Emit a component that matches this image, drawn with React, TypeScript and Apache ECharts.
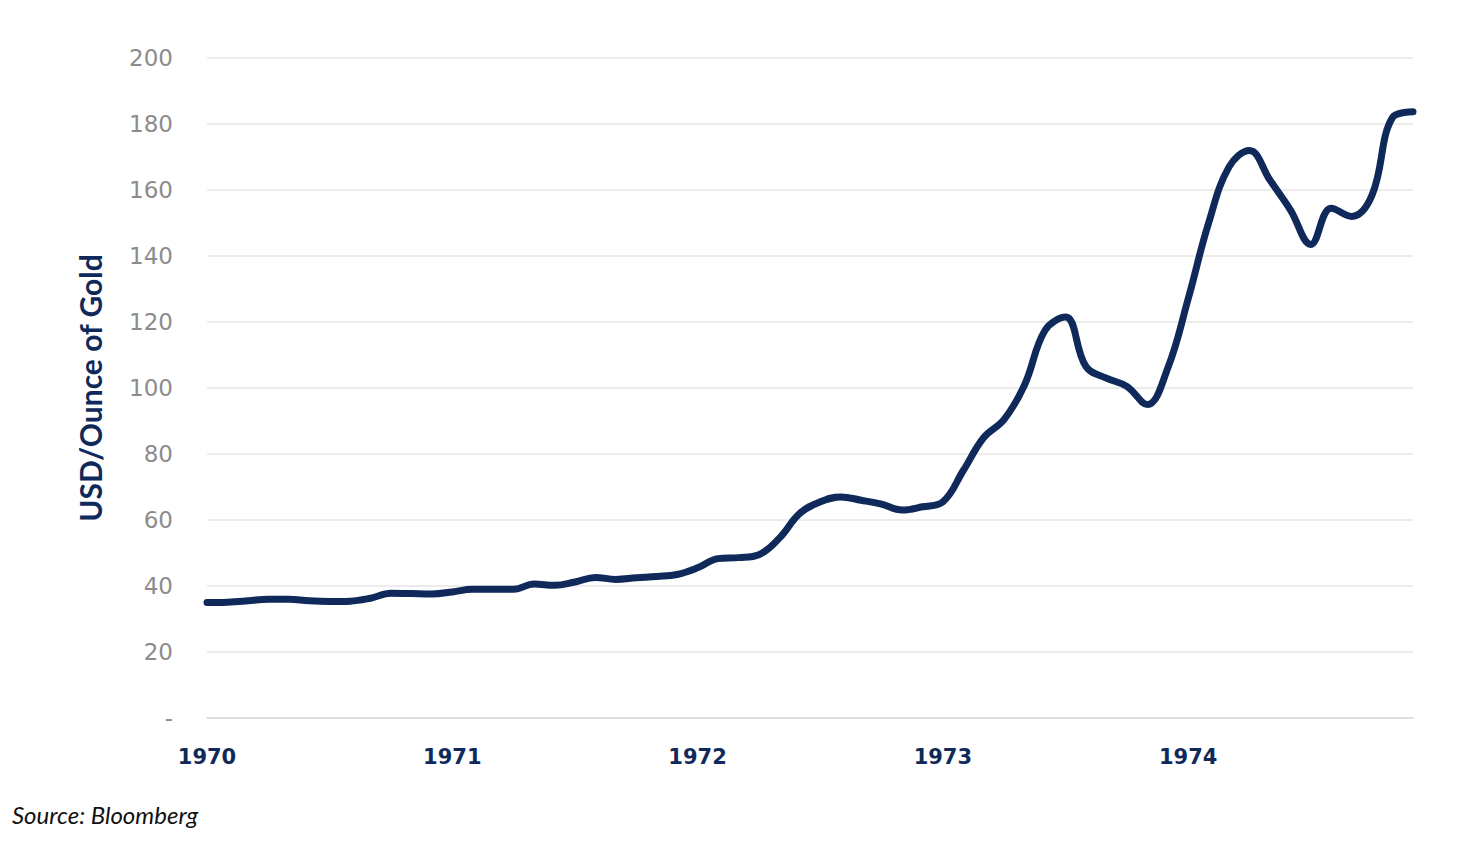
import React, { useEffect, useRef } from 'react';
import * as echarts from 'echarts';

// monthly gold price, Jan 1970 .. Dec 1974
const years = ['1970', '1971', '1972', '1973', '1974'];
const monthsPerYear = 12;

const goldPrice: number[] = [
  35.0, 35.1, 35.5, 36.0, 36.0, 35.5, 35.3, 35.4, 36.3, 37.8, 37.7, 37.6,
  38.2, 39.0, 39.0, 39.0, 40.6, 40.2, 41.2, 42.6, 42.0, 42.5, 42.9, 43.5,
  45.5, 48.3, 48.6, 49.5, 54.5, 62.0, 65.5, 67.0, 66.0, 64.8, 63.0, 64.0,
  65.5, 75.0, 85.0, 90.5, 101.0, 117.5, 121.5, 106.5, 103.0, 100.5, 95.0, 106.0,
  127.0, 150.0, 167.0, 172.0, 163.0, 154.0, 143.5, 154.5, 152.0, 158.5, 182.0, 183.7,
];

const yTicks = { min: 0, max: 200, interval: 20 };

const NAVY = '#0f2a5a';

const categories: string[] = [];
years.forEach((y) => {
  for (let m = 1; m <= monthsPerYear; m++) {
    categories.push(`${y}-${String(m).padStart(2, '0')}`);
  }
});

const App: React.FC = () => {
  const chartRef = useRef<HTMLDivElement>(null);

  useEffect(() => {
    if (!chartRef.current) return;
    const chart = echarts.init(chartRef.current, null, { renderer: 'svg' });

    const option: echarts.EChartsOption = {
      animation: false,
      backgroundColor: '#ffffff',
      grid: {
        left: 207,
        right: 51,
        top: 58,
        bottom: 134,
        containLabel: false,
      },
      xAxis: {
        type: 'category',
        boundaryGap: false,
        data: categories,
        axisTick: { show: false },
        axisLine: { lineStyle: { color: '#d9d9d9', width: 1.5 } },
        axisLabel: {
          interval: monthsPerYear - 1,
          formatter: (v: string) => v.slice(0, 4),
          color: NAVY,
          fontFamily: 'DejaVu Sans',
          fontWeight: 'bold',
          fontSize: 21,
          margin: 28,
        },
        splitLine: { show: false },
      },
      yAxis: {
        type: 'value',
        min: yTicks.min,
        max: yTicks.max,
        interval: yTicks.interval,
        axisLine: { show: false },
        axisTick: { show: false },
        axisLabel: {
          formatter: (v: number) => (v === 0 ? '-' : String(v)),
          color: '#8c8c8c',
          fontFamily: 'DejaVu Sans',
          fontSize: 23,
          margin: 34,
        },
        splitLine: { lineStyle: { color: '#ececec', width: 2 } },
      },
      graphic: [
        {
          type: 'text',
          x: 90,
          y: 388,
          rotation: Math.PI / 2,
          style: {
            text: 'USD/Ounce of Gold',
            fill: NAVY,
            font: 'bold 30px Lato',
            textAlign: 'center',
            textVerticalAlign: 'middle',
          },
        },
        {
          type: 'text',
          left: 12,
          top: 802,
          style: {
            text: 'Source: Bloomberg',
            fill: '#111111',
            font: 'italic 24px Lato',
          },
        },
      ],
      series: [
        {
          name: 'Gold',
          type: 'line',
          data: goldPrice,
          smooth: 0.4,
          showSymbol: false,
          lineStyle: { color: NAVY, width: 7, cap: 'round', join: 'round' },
        },
      ],
    };

    chart.setOption(option);
    return () => {
      chart.dispose();
    };
  }, []);

  return (
    <div
      ref={chartRef}
      style={{ position: 'fixed', left: 0, top: 0, width: 1464, height: 852 }}
    />
  );
};

export default App;
